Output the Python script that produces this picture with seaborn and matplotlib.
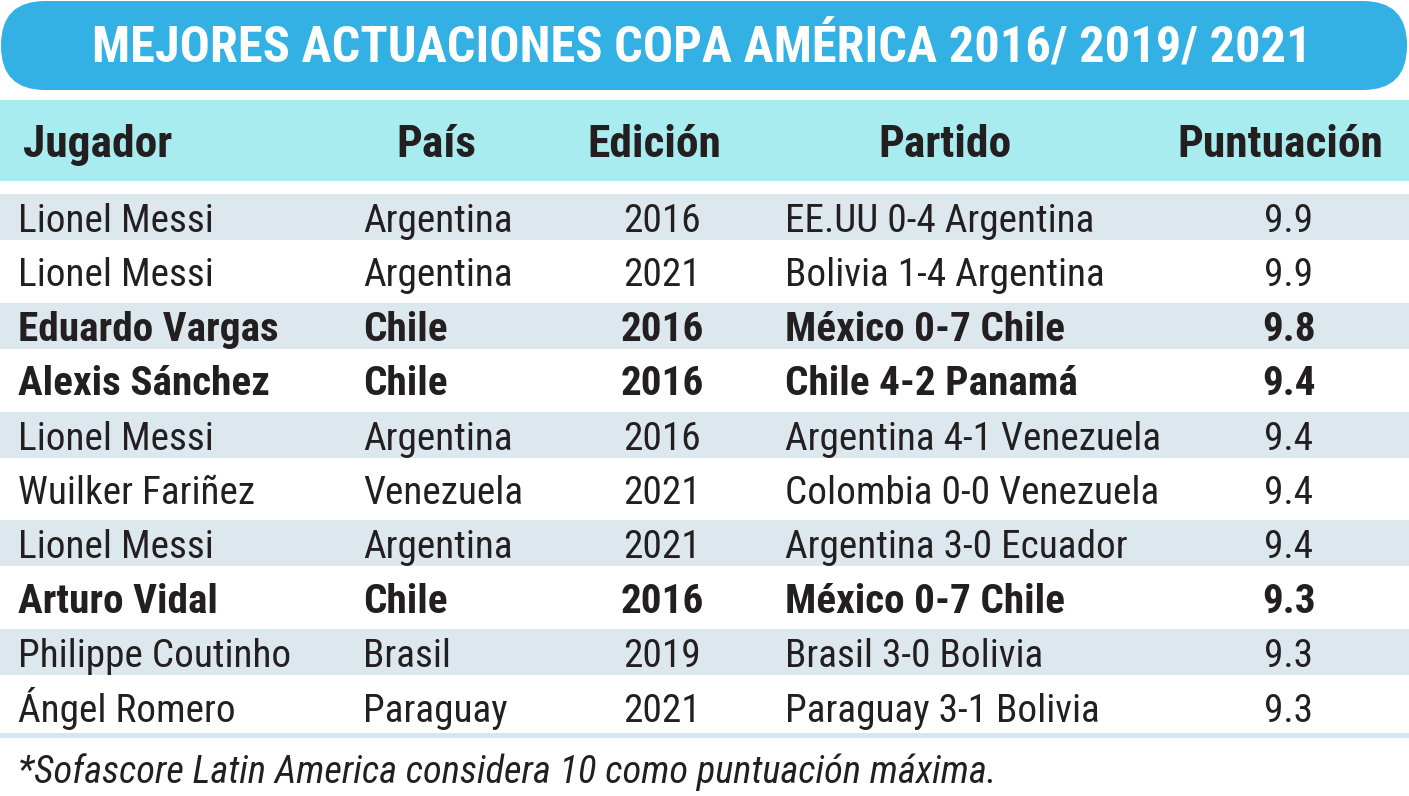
import matplotlib
matplotlib.use("Agg")
import matplotlib.pyplot as plt
import seaborn as sns
from matplotlib import font_manager as fm
from matplotlib.patches import FancyBboxPatch, Rectangle

# ---------------- data ----------------
titulo = "MEJORES ACTUACIONES COPA AMÉRICA 2016/ 2019/ 2021"
encabezados = ["Jugador", "País", "Edición", "Partido", "Puntuación"]
jugadores = ["Lionel Messi", "Lionel Messi", "Eduardo Vargas", "Alexis Sánchez",
             "Lionel Messi", "Wuilker Fariñez", "Lionel Messi", "Arturo Vidal",
             "Philippe Coutinho", "Ángel Romero"]
paises = ["Argentina", "Argentina", "Chile", "Chile", "Argentina", "Venezuela",
          "Argentina", "Chile", "Brasil", "Paraguay"]
ediciones = ["2016", "2021", "2016", "2016", "2016", "2021", "2021", "2016",
             "2019", "2021"]
partidos = ["EE.UU 0-4 Argentina", "Bolivia 1-4 Argentina", "México 0-7 Chile",
            "Chile 4-2 Panamá", "Argentina 4-1 Venezuela",
            "Colombia 0-0 Venezuela", "Argentina 3-0 Ecuador",
            "México 0-7 Chile", "Brasil 3-0 Bolivia", "Paraguay 3-1 Bolivia"]
puntuaciones = [9.9, 9.9, 9.8, 9.4, 9.4, 9.4, 9.4, 9.3, 9.3, 9.3]
destacados = [False, False, True, True, False, False, False, True, False, False]
nota = "*Sofascore Latin America considera 10 como puntuación máxima."

# ---------------- style ----------------
sns.set_theme(style="white")
plt.rcParams["font.family"] = ["Noto Sans", "DejaVu Sans"]

prefs = ["Liberation Sans Narrow", "Roboto Condensed", "Noto Sans Condensed",
         "Open Sans Condensed", "Noto Sans SemiCondensed", "Open Sans SemiCondensed",
         "DejaVu Sans Condensed"]
cond_set = {"condensed", "semi-condensed", "extra-condensed", "narrow"}


def wnum(w):
    if isinstance(w, (int, float)):
        return w
    return fm.weight_dict.get(str(w).lower(), 400)


def is_cond(f):
    n = f.name.lower()
    return ("condensed" in n or "narrow" in n or str(f.stretch) in cond_set
            or "condensed" in f.fname.lower() or "narrow" in f.fname.lower())


def rank(name):
    return prefs.index(name) if name in prefs else len(prefs)


cands = [f for f in fm.fontManager.ttflist if is_cond(f)]


def pick(target_w, italic, fallback_family):
    pool = [f for f in cands
            if (f.style in ("italic", "oblique")) == italic
            and abs(wnum(f.weight) - target_w) <= 100]
    if pool:
        pool.sort(key=lambda f: (rank(f.name), abs(wnum(f.weight) - target_w)))
        return fm.FontProperties(fname=pool[0].fname)
    return fm.FontProperties(family=fallback_family,
                             weight="bold" if target_w >= 600 else "normal",
                             style="italic" if italic else "normal")


fp_reg = pick(400, False, "Noto Sans")
fp_bold = pick(700, False, "Noto Sans")
fp_ital = pick(400, True, "Noto Sans")

W, H = 1409, 796
fig = plt.figure(figsize=(W / 100, H / 100), dpi=100)
fig.patch.set_facecolor("white")
ax = fig.add_axes([0, 0, 1, 1])
ax.set_xlim(0, W)
ax.set_ylim(H, 0)
ax.axis("off")

renderer = fig.canvas.get_renderer()


def fit(text, target, fp):
    t = ax.text(0, 0, text, fontproperties=fp, fontsize=20)
    w = t.get_window_extent(renderer).width
    t.remove()
    return 20 * target / w


fs_row = fit("Argentina 4-1 Venezuela", 376, fp_reg)
fs_bold = fit("Eduardo Vargas", 260, fp_bold)
fs_head = fit("Puntuación", 206, fp_bold)
fs_title = fit(titulo, 1218, fp_bold)
fs_note = fit(nota, 977, fp_ital)

TXT = "#231F20"
BLUE = "#33B1E4"
CYAN = "#A9ECEF"
STRIPE = "#DCE8EE"

# banner
ax.add_patch(FancyBboxPatch((1, 1), 1406, 89,
                            boxstyle="round,pad=0,rounding_size=44",
                            fc=BLUE, ec="none"))
ax.text(702, 62, titulo, color="white", fontproperties=fp_bold,
        fontsize=fs_title, ha="center", va="baseline")

# header band
ax.add_patch(Rectangle((0, 100), W, 81, fc=CYAN, ec="none"))
head_x = [23, 436, 654, 945, 1280]
head_ha = ["left", "center", "center", "center", "center"]
for h, x, ha in zip(encabezados, head_x, head_ha):
    ax.text(x, 157, h, color=TXT, fontproperties=fp_bold, fontsize=fs_head,
            ha=ha, va="baseline")

# rows
base0, step = 232, 54.4
for i in range(len(jugadores)):
    b = base0 + i * step
    if i % 2 == 0:
        ax.add_patch(Rectangle((0, b - 38), W, 46, fc=STRIPE, ec="none"))
    bold = destacados[i]
    kw = dict(color=TXT, va="baseline",
              fontproperties=fp_bold if bold else fp_reg,
              fontsize=fs_bold if bold else fs_row)
    ax.text(18, b, jugadores[i], ha="left", **kw)
    ax.text(363, b, paises[i], ha="left", **kw)
    ax.text(662, b, ediciones[i], ha="center", **kw)
    ax.text(785, b, partidos[i], ha="left", **kw)
    ax.text(1289, b, f"{puntuaciones[i]:.1f}", ha="center", **kw)

# bottom rule
ax.add_patch(Rectangle((0, 733), W, 5, fc="#D6E6EE", ec="none"))

# footnote
ax.text(18, 783, nota, color=TXT, fontproperties=fp_ital, fontsize=fs_note,
        ha="left", va="baseline")

fig.savefig("out.png", dpi=100, facecolor="white")
